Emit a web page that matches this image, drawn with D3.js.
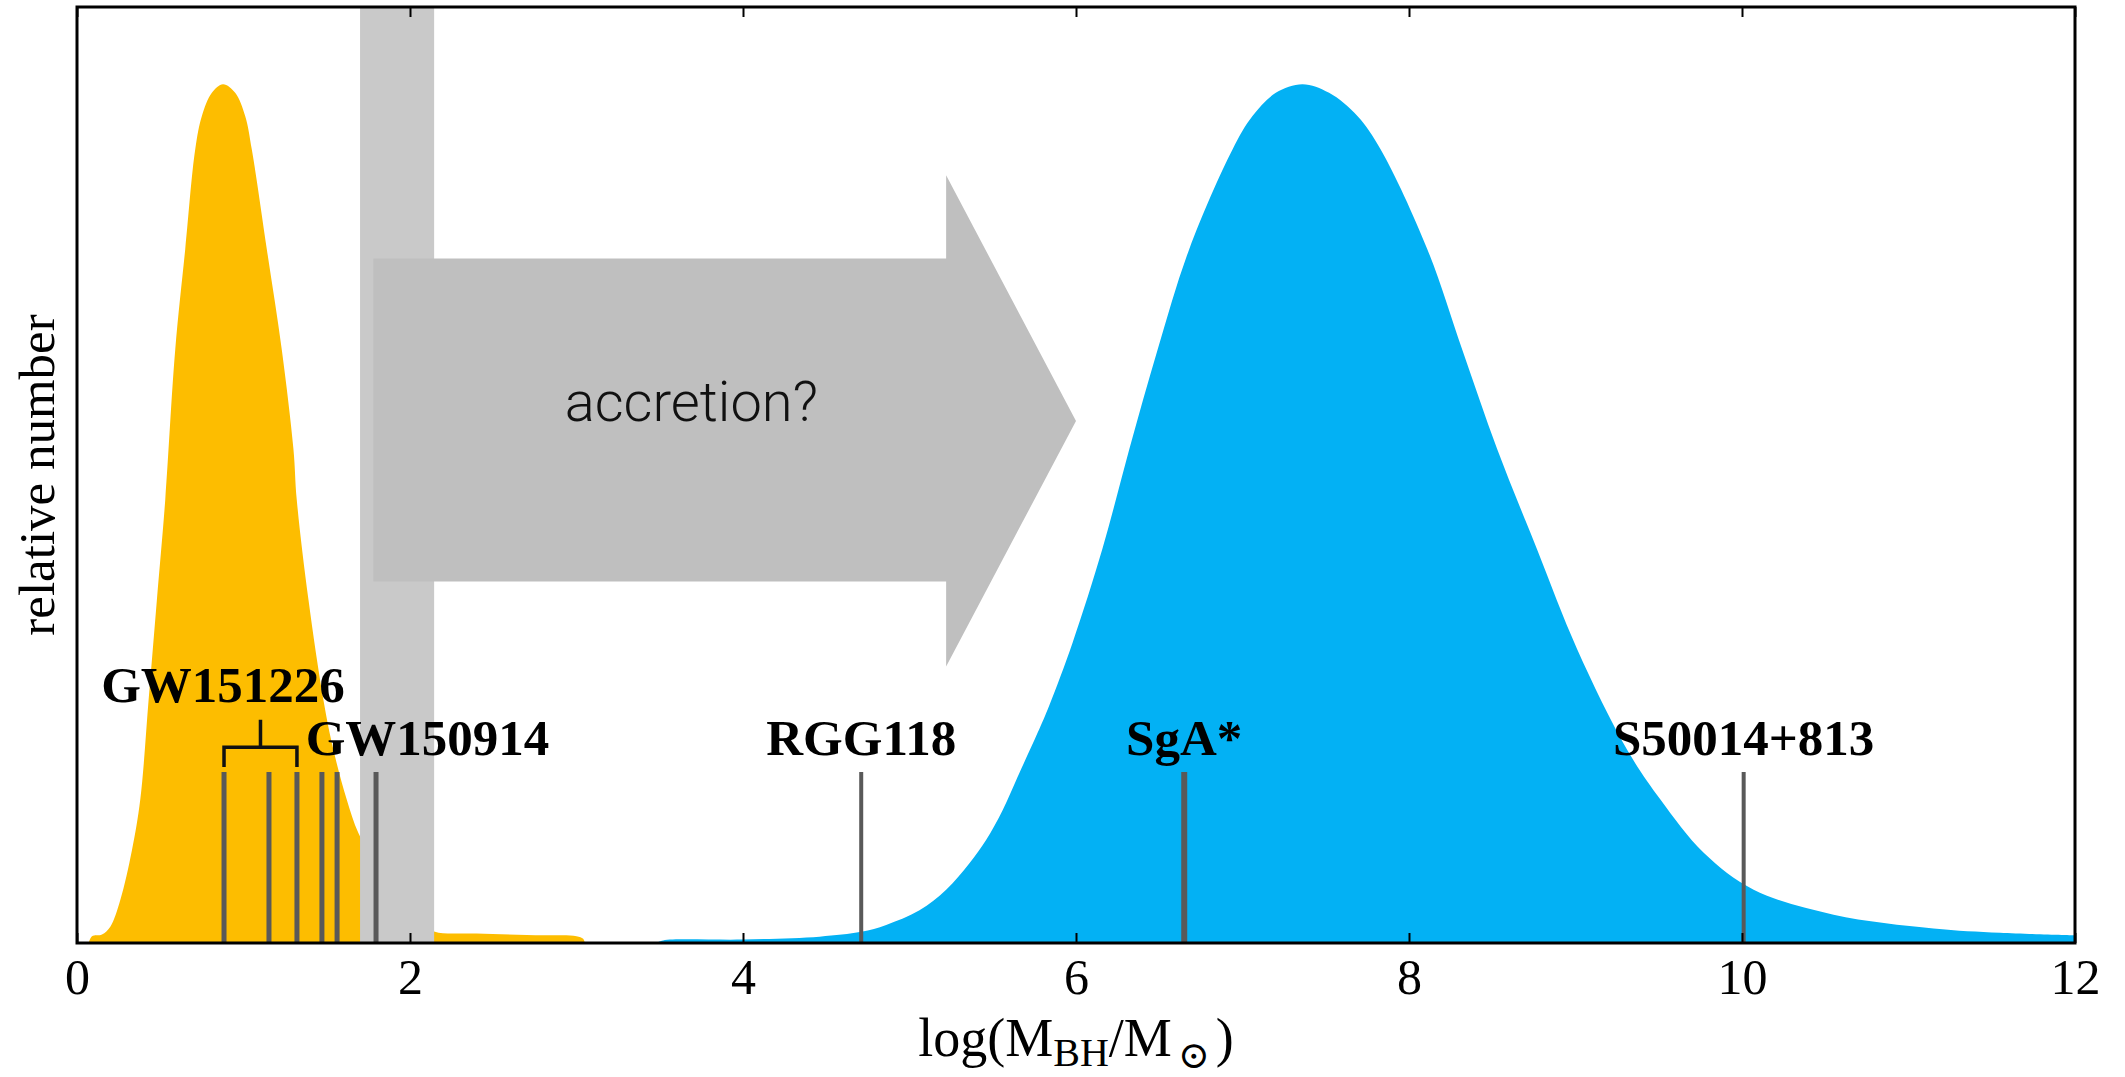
<!DOCTYPE html>
<html>
<head>
<meta charset="utf-8">
<script src="https://cdn.jsdelivr.net/npm/d3@7"></script>
<style>
  body { margin: 0; background: #fff; }
  svg { display: block; }
</style>
</head>
<body>
<svg id="chart"></svg>
<script>

// DATA

// stellar-mass black holes (yellow)
const stellarMass   = [0.07, 0.09, 0.15, 0.20, 0.26, 0.33, 0.38, 0.43, 0.48, 0.53, 0.59, 0.65, 0.71, 0.75, 0.81, 0.877, 0.95, 1.01, 1.05, 1.14, 1.23, 1.30, 1.32, 1.39, 1.48, 1.54, 1.62, 1.69, 1.80, 1.95, 2.10, 2.15, 2.40, 2.80, 3.00, 3.04, 3.05];
const stellarNumber = [0, 0.008, 0.010, 0.019, 0.05, 0.108, 0.167, 0.283, 0.40, 0.516, 0.691, 0.808, 0.924, 0.963, 0.99, 1.0, 0.99, 0.963, 0.924, 0.808, 0.691, 0.575, 0.516, 0.40, 0.283, 0.225, 0.167, 0.128, 0.09, 0.05, 0.02, 0.013, 0.011, 0.009, 0.008, 0.005, 0];

// supermassive black holes (blue)
const smbhMass   = [3.48, 3.52, 4.00, 4.46, 4.71, 4.86, 5.06, 5.22, 5.36, 5.46, 5.56, 5.66, 5.77, 5.84, 5.98, 6.16, 6.32, 6.49, 6.68, 6.94, 7.06, 7.20, 7.36, 7.52, 7.69, 7.83, 8.11, 8.32, 8.53, 8.77, 9.01, 9.31, 9.51, 9.77, 10.07, 10.55, 11.15, 11.55, 12.0];
const smbhNumber = [0, 0.003, 0.004, 0.0074, 0.013, 0.021, 0.038, 0.062, 0.093, 0.12, 0.155, 0.198, 0.245, 0.277, 0.35, 0.46, 0.575, 0.691, 0.808, 0.924, 0.963, 0.99, 1.0, 0.99, 0.963, 0.924, 0.808, 0.691, 0.575, 0.458, 0.342, 0.225, 0.167, 0.105, 0.062, 0.033, 0.017, 0.012, 0.009];

// individual black holes (vertical markers)
const bhMass = [0.883, 1.153, 1.321, 1.471, 1.562, 1.796, 4.71, 6.65, 10.01];
const bhWidth = [5, 5, 5, 5, 5, 5, 4, 6, 4];

// labels: text and position in data units
const labelText = ["GW151226", "GW150914", "RGG118", "SgA*", "S50014+813"];
const labelMass = [0.877, 2.105, 4.71, 6.65, 10.01];
const labelLevel = [0.281, 0.219, 0.219, 0.219, 0.219];

// GW151226 bracket spans markers 0..2
const bracketFrom = 0.883, bracketTo = 1.321;

// grey band (mass gap)
const bandFrom = 1.70, bandTo = 2.145;

const xTicks = [0, 2, 4, 6, 8, 10, 12];

// + LAYOUT
const width = 2125, height = 1077;
const margin = { top: 7, right: 50, bottom: 134, left: 77 };

const svg = d3.select("#chart")
  .attr("width", width)
  .attr("height", height);

// + SCALES
const xScale = d3.scaleLinear()
  .domain([0, 12])
  .range([margin.left, width - margin.right]);

const yScale = d3.scaleLinear()
  .domain([0, 1.09])
  .range([height - margin.bottom, margin.top]);

const areaGen = d3.area()
  .x(d => xScale(d[0]))
  .y0(yScale(0))
  .y1(d => Math.min(yScale(0), yScale(d[1])))
  .curve(d3.curveCatmullRom.alpha(0.5));

// + DISTRIBUTIONS
svg.append("path")
  .datum(d3.zip(stellarMass, stellarNumber))
  .attr("fill", "#fdbd00")
  .attr("d", areaGen);

svg.append("path")
  .datum(d3.zip(smbhMass, smbhNumber))
  .attr("fill", "#03b1f4")
  .attr("d", areaGen);

// + MASS GAP BAND
svg.append("rect")
  .attr("x", xScale(bandFrom))
  .attr("y", yScale.range()[1])
  .attr("width", xScale(bandTo) - xScale(bandFrom))
  .attr("height", yScale(0) - yScale.range()[1])
  .attr("fill", "#c9c9c9");

// + ARROW (accretion?)
const arrowPts = [
  [1.78, 0.797], [5.22, 0.797], [5.22, 0.894], [6.0, 0.608],
  [5.22, 0.322], [5.22, 0.421], [1.78, 0.421]
];
svg.append("path")
  .attr("d", d3.line().x(d => xScale(d[0])).y(d => yScale(d[1]))(arrowPts) + "Z")
  .attr("fill", "#bfbfbf");

svg.append("text")
  .attr("x", xScale(3.69))
  .attr("y", yScale(0.608))
  .attr("text-anchor", "middle")
  .attr("font-family", "Roboto, 'Liberation Sans', sans-serif")
  .attr("font-weight", 300)
  .attr("font-size", 56)
  .attr("fill", "#111")
  .text("accretion?");

// + MARKERS
svg.selectAll(".bh")
  .data(bhMass)
  .join("line")
  .attr("class", "bh")
  .attr("x1", d => xScale(d))
  .attr("x2", d => xScale(d))
  .attr("y1", yScale(0))
  .attr("y2", yScale(0.199))
  .attr("stroke", "#595959")
  .attr("stroke-width", (d, i) => bhWidth[i]);

// bracket for GW151226
const bracketMid = (bracketFrom + bracketTo) / 2;
svg.append("path")
  .attr("d",
    `M${xScale(bracketFrom)},${yScale(0.205)}V${yScale(0.228)}H${xScale(bracketTo)}V${yScale(0.205)}` +
    `M${xScale(bracketMid)},${yScale(0.228)}V${yScale(0.26)}`)
  .attr("fill", "none")
  .attr("stroke", "#111")
  .attr("stroke-width", 3.5);

svg.selectAll(".bh-label")
  .data(labelText)
  .join("text")
  .attr("class", "bh-label")
  .attr("x", (d, i) => xScale(labelMass[i]))
  .attr("y", (d, i) => yScale(labelLevel[i]))
  .attr("text-anchor", "middle")
  .attr("font-family", "'Liberation Serif', 'Times New Roman', serif")
  .attr("font-weight", "bold")
  .attr("font-size", 51)
  .attr("fill", "#000")
  .text(d => d);

// + AXES
const xAxisBottom = svg.append("g")
  .attr("transform", `translate(0, ${yScale(0)})`)
  .call(d3.axisBottom(xScale).tickValues(xTicks).tickFormat(d3.format("d"))
    .tickSizeInner(-10).tickSizeOuter(0).tickPadding(15));

const xAxisTop = svg.append("g")
  .attr("transform", `translate(0, ${margin.top})`)
  .call(d3.axisTop(xScale).tickValues(xTicks).tickFormat("")
    .tickSizeInner(-10).tickSizeOuter(0));

[xAxisBottom, xAxisTop].forEach(g => {
  g.select(".domain").remove();
  g.selectAll(".tick line").attr("stroke", "#000").attr("stroke-width", 2);
});

xAxisBottom.selectAll(".tick text")
  .attr("font-family", "'Liberation Serif', 'Times New Roman', serif")
  .attr("font-size", 50)
  .attr("fill", "#000");

// frame
svg.append("rect")
  .attr("x", xScale(0))
  .attr("y", margin.top)
  .attr("width", xScale(12) - xScale(0))
  .attr("height", yScale(0) - margin.top)
  .attr("fill", "none")
  .attr("stroke", "#000")
  .attr("stroke-width", 3);

// + AXIS LABELS
const xLabel = svg.append("text")
  .attr("x", xScale(6))
  .attr("y", 1056)
  .attr("text-anchor", "middle")
  .attr("font-family", "'Liberation Serif', 'Times New Roman', serif")
  .attr("font-size", 54)
  .attr("fill", "#000");
xLabel.append("tspan").text("log(M");
xLabel.append("tspan").attr("font-size", 40).attr("dy", 10).text("BH");
xLabel.append("tspan").attr("dy", -10).text("/M");
xLabel.append("tspan").attr("font-size", 38).attr("dy", 12).attr("dx", 6)
  .attr("font-family", "'DejaVu Serif', serif").text("\u2299");
xLabel.append("tspan").attr("dy", -12).attr("dx", 6).text(")");

svg.append("text")
  .attr("transform", `translate(54, ${(yScale(0) + margin.top) / 2}) rotate(-90)`)
  .attr("text-anchor", "middle")
  .attr("font-family", "'Liberation Serif', 'Times New Roman', serif")
  .attr("font-size", 51)
  .attr("fill", "#000")
  .text("relative number");

</script>
</body>
</html>
